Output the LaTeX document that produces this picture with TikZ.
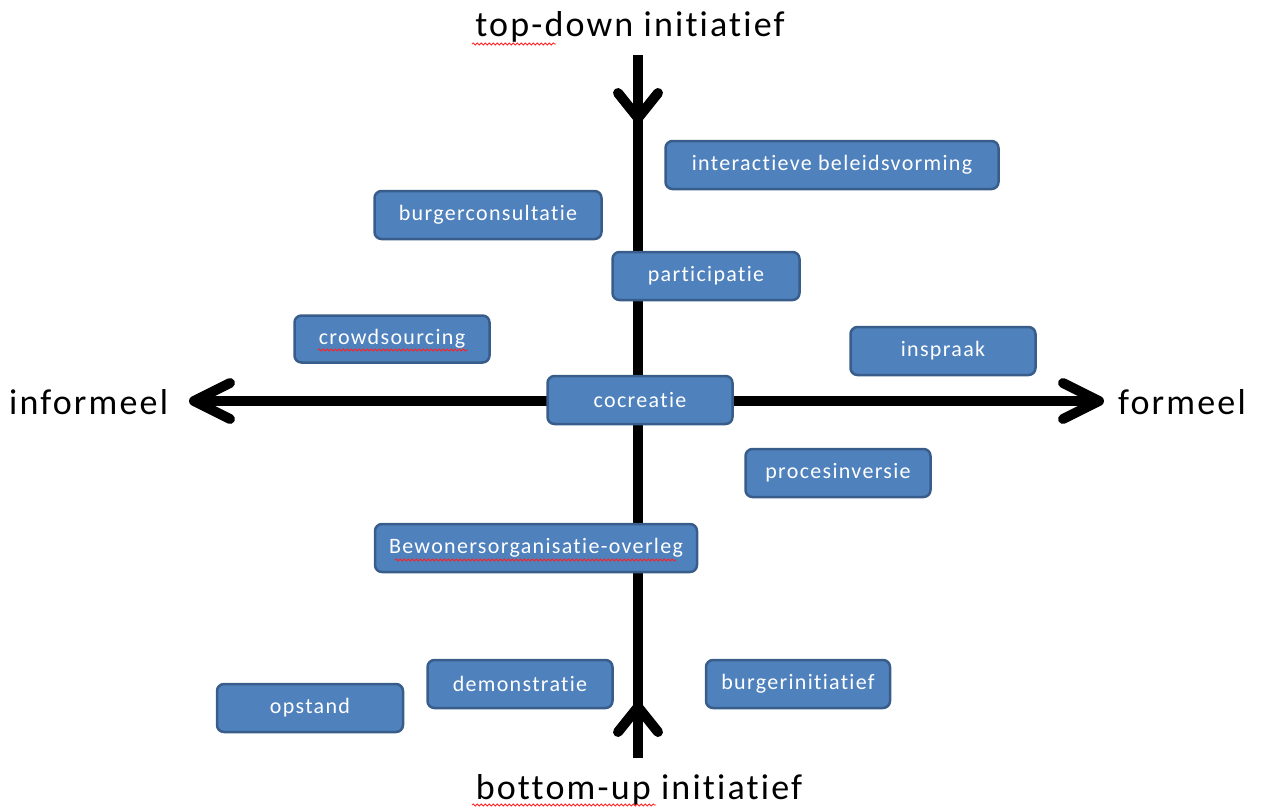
\documentclass[tikz,border=0pt]{standalone}
\usepackage{fontspec}
\setmainfont{Carlito}[Ligatures=NoCommon, LetterSpace=6]
\usetikzlibrary{decorations.pathmorphing}
\definecolor{boxfill}{HTML}{4F81BD}
\definecolor{boxedge}{HTML}{385D8A}
\definecolor{spell}{HTML}{FF2020}
\begin{document}
\begin{tikzpicture}[x=1pt,y=-1pt,
  axis/.style={line width=10pt, black},
  chev/.style={line width=10pt, black, line cap=round, line join=round},
  card/.style={draw=boxedge, line width=2.5pt, fill=boxfill, rounded corners=7pt,
    text=white, font=\fontsize{22}{26}\selectfont, inner sep=0pt, anchor=center},
  label/.style={font=\fontsize{36}{42}\selectfont, inner sep=0pt},
  squiggle/.style={spell, line width=0.8pt, decorate,
    decoration={snake, amplitude=1.1pt, segment length=4pt}}]
\useasboundingbox (0,0) rectangle (1261,809);

% axis end points
\coordinate (top) at (638,55);
\coordinate (bottom) at (638,758);
\coordinate (left) at (194,401);
\coordinate (right) at (1099,401);

% axes
\draw[axis] (top) -- (bottom);
\draw[axis] (left) -- (right);
\draw[chev] (618,93) -- (638,118) -- (658,93);
\draw[chev] (618,732) -- (638,707) -- (658,732);
\draw[chev] (230,383) -- (194,401) -- (230,419);
\draw[chev] (1063,383) -- (1099,401) -- (1063,419);

% axis labels
\node[label] (tl) at (630,27) {top-down initiatief};
\node[label] (bl) at (639,790) {bottom-up initiatief};
\node[label, anchor=west] (il) at (9,402) {informeel};
\node[label, anchor=west] (fl) at (1118,402) {formeel};

% forms of participation
\node[card, minimum width=333pt, minimum height=48pt] (ibv) at (832,165) {interactieve beleidsvorming};
\node[card, minimum width=227pt, minimum height=48pt] (bc) at (488,215) {burgerconsultatie};
\node[card, minimum width=187pt, minimum height=48pt] (part) at (706,276) {participatie};
\node[card, minimum width=195pt, minimum height=47pt] (crowd) at (392,339) {crowdsourcing};
\node[card, minimum width=185pt, minimum height=48pt] (insp) at (943,351) {inspraak};
\node[card, minimum width=185pt, minimum height=48pt] (cocr) at (640,400) {cocreatie};
\node[card, minimum width=185pt, minimum height=48pt] (proc) at (838,473) {procesinversie};
\node[card, minimum width=322pt, minimum height=48pt] (bew) at (536,548) {Bewonersorganisatie-overleg};
\node[card, minimum width=185pt, minimum height=48pt] (dem) at (520,684) {demonstratie};
\node[card, minimum width=186pt, minimum height=48pt] (opst) at (310,708) {opstand};
\node[card, minimum width=184pt, minimum height=48pt] (binit) at (798,684) {burgerinitiatief};

% spell-check underlines
\draw[squiggle] (472,44) -- (556,44);
\draw[squiggle] (472,805) -- (656,805);
\draw[squiggle] (318,350) -- (468,350);
\draw[squiggle] (395,560) -- (676,560);
\end{tikzpicture}
\end{document}
